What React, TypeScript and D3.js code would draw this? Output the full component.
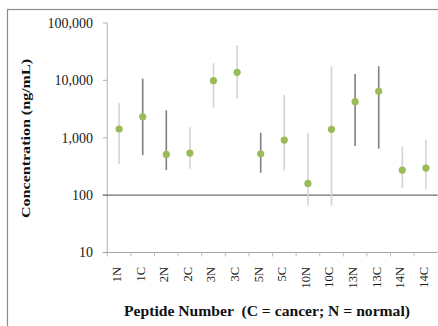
import React from "react";
import * as d3 from "d3";

const categories = ["1N", "1C", "2N", "2C", "3N", "3C", "5N", "5C", "10N", "10C", "13N", "13C", "14N", "14C"];
const meanValues = [1420, 2320, 513, 541, 9890, 13800, 526, 912, 160, 1400, 4250, 6440, 273, 296];
const upperValues = [3980, 10700, 3000, 1520, 19900, 41500, 1220, 5630, 1220, 17600, 12900, 17600, 708, 912];
const lowerValues = [348, 499, 273, 288, 3340, 4800, 245, 270, 65, 65, 716, 643, 132, 126];
const darkBarCategories = ["1C", "2N", "5N", "13N", "13C"];
const yTickValues = [10, 100, 1000, 10000, 100000];
const yTickLabels = ["10", "100", "1,000", "10,000", "100,000"];
const yTitle = "Concentration (ng/mL)";
const xTitle = "Peptide Number  (C = cancer; N = normal)";

const W = 438;
const H = 326;
const plotLeft = 107.3;
const plotRight = 437.7;
const plotTop = 23;
const plotBottom = 252.5;

export default function App() {
  const x = d3.scaleBand<string>().domain(categories).range([plotLeft, plotRight]).padding(0);
  const y = d3.scaleLog().domain([10, 100000]).range([plotBottom, plotTop]);
  const bw = x.bandwidth();
  const serif = "'Liberation Serif', 'Times New Roman', serif";

  return (
    <svg width={W} height={H} style={{ position: "absolute", left: 0, top: 0, background: "#fff" }}>
      {/* chart border */}
      <rect x={7.5} y={9.5} width={W + 20} height={H + 20} fill="#fff" stroke="#8c8c8c" strokeWidth={1.2} />

      {/* y axis */}
      <line x1={plotLeft} x2={plotLeft} y1={plotTop} y2={plotBottom} stroke="#bfbfbf" strokeWidth={1.2} />
      {yTickValues.map((v, i) => (
        <g key={v}>
          <line x1={plotLeft - 4.5} x2={plotLeft} y1={y(v)} y2={y(v)} stroke="#bfbfbf" strokeWidth={1.2} />
          <text
            x={93}
            y={y(v)}
            dy="0.35em"
            textAnchor="end"
            fontFamily={serif}
            fontSize={14}
            fill="#1a1a1a"
          >
            {yTickLabels[i]}
          </text>
        </g>
      ))}

      {/* x axis at bottom (value 10) */}
      <line x1={plotLeft - 4.5} x2={plotRight} y1={plotBottom} y2={plotBottom} stroke="#a6a6a6" strokeWidth={1.2} />
      {categories.map((c) => (
        <line
          key={"t" + c}
          x1={x(c) as number}
          x2={x(c) as number}
          y1={plotBottom}
          y2={plotBottom + 4}
          stroke="#bfbfbf"
          strokeWidth={1}
        />
      ))}

      {/* reference line at 100 */}
      <line x1={plotLeft - 4.5} x2={plotRight} y1={y(100)} y2={y(100)} stroke="#6e6e6e" strokeWidth={1.2} />

      {/* error bars */}
      {categories.map((c, i) => {
        const cx = (x(c) as number) + bw / 2;
        return (
          <line
            key={"e" + c}
            x1={cx}
            x2={cx}
            y1={y(upperValues[i])}
            y2={y(lowerValues[i])}
            stroke={darkBarCategories.includes(c) ? "#7f7f7f" : "#d4d4d4"}
            strokeWidth={1.6}
          />
        );
      })}

      {/* points */}
      {categories.map((c, i) => (
        <circle key={"p" + c} cx={(x(c) as number) + bw / 2} cy={y(meanValues[i])} r={3.6} fill="#9bbb59" />
      ))}

      {/* x tick labels */}
      {categories.map((c) => {
        const cx = (x(c) as number) + bw / 2 - 2.5;
        return (
          <text
            key={"l" + c}
            transform={`translate(${cx},${267}) rotate(-90)`}
            dy="0.35em"
            textAnchor="end"
            fontFamily={serif}
            fontSize={12.5}
            fill="#1a1a1a"
          >
            {c}
          </text>
        );
      })}

      {/* axis titles */}
      <text
        x={267}
        y={315.5}
        textAnchor="middle"
        fontFamily={serif}
        fontWeight="bold"
        fontSize={14}
        textLength={286}
        lengthAdjust="spacingAndGlyphs"
        fill="#111"
        style={{ whiteSpace: "pre" }}
      >
        {xTitle}
      </text>
      <text
        transform={`translate(25,138.5) rotate(-90)`}
        dy="0.35em"
        textAnchor="middle"
        fontFamily={serif}
        fontWeight="bold"
        fontSize={13.5}
        textLength={159}
        lengthAdjust="spacingAndGlyphs"
        fill="#111"
      >
        {yTitle}
      </text>
    </svg>
  );
}
